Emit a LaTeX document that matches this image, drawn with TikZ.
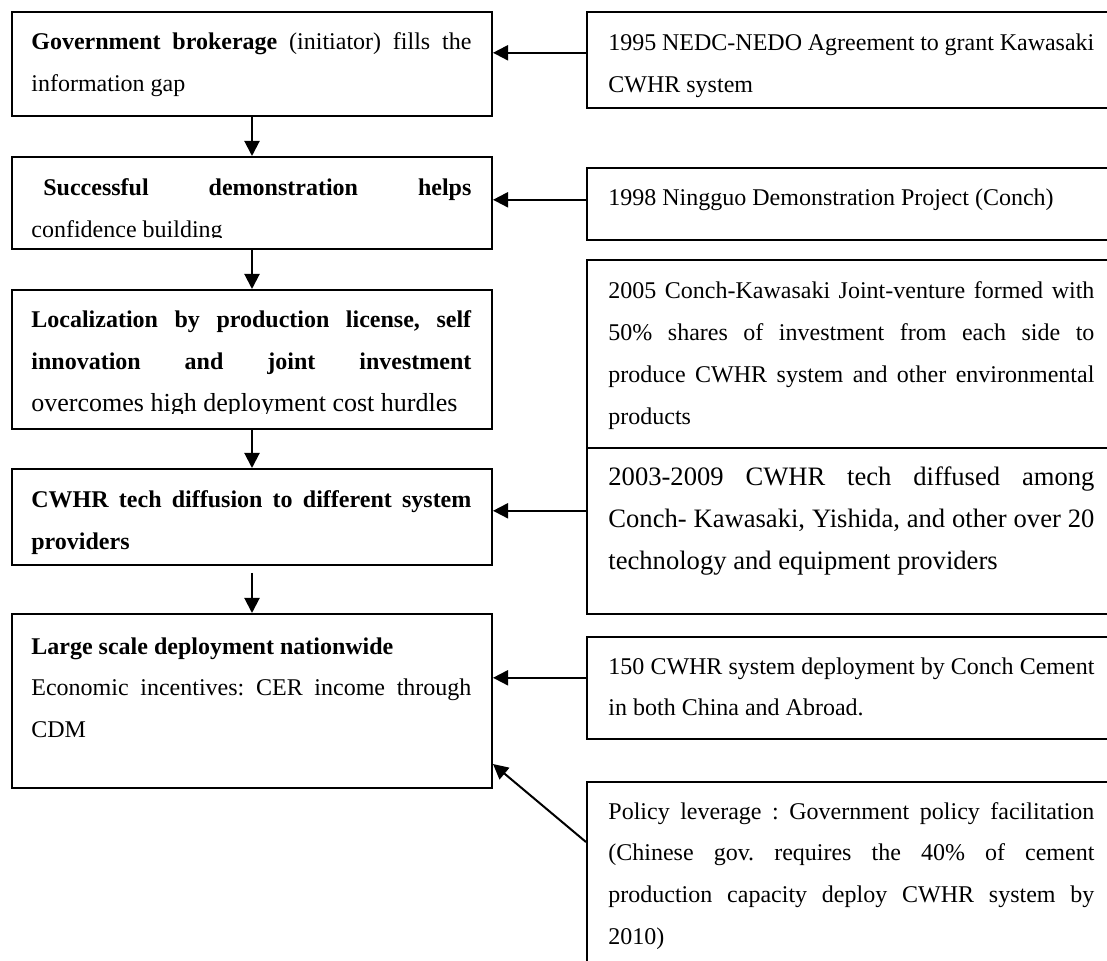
\documentclass[tikz,border=0pt]{standalone}
\usepackage{fontspec}
\setmainfont{Liberation Serif}
\usetikzlibrary{arrows.meta}
\frenchspacing
\hyphenpenalty=10000
\tikzstyle{lbox}=[draw,line width=1pt,minimum width=240pt,anchor=north west,inner sep=0pt]
\tikzstyle{rbox}=[draw,line width=0.8pt,minimum width=267pt,anchor=north west,inner sep=0pt]
\tikzstyle{ltext}=[anchor=base west,text width=220pt,align=justify,inner sep=0pt,font=\fontsize{12}{20.9}\selectfont]
\tikzstyle{rtext}=[anchor=base west,text width=243pt,align=justify,inner sep=0pt,font=\fontsize{12}{20.9}\selectfont]
\tikzstyle{arr}=[-{Triangle[length=7.5pt,width=7.5pt]},line width=1pt]
\newcommand{\bigtxt}{\fontsize{13.3}{20.9}\selectfont}

\begin{document}
\begin{tikzpicture}[x=1pt,y=-1pt]
\clip (0,0) rectangle (553.5,480.5);
\node[lbox,minimum height=52pt] at (5.5, 5.5) (b1) {};
\node[lbox,minimum height=46pt] at (5.5, 78) (b2) {};
\node[lbox,minimum height=69.5pt] at (5.5, 144.5) (b3) {};
\node[lbox,minimum height=48pt] at (5.5, 234) (b4) {};
\node[lbox,minimum height=87pt] at (5.5, 306.5) (b5) {};
\node[rbox,minimum height=48pt] at (293, 5.5) (r1) {};
\node[rbox,minimum height=36pt] at (293, 83.5) (r2) {};
\node[rbox,minimum height=94pt] at (293, 129.5) (r3) {};
\node[rbox,minimum height=83pt] at (293, 223.5) (r4) {};
\node[rbox,minimum height=51pt] at (293, 318) (r5) {};
\node[rbox,minimum height=100pt] at (293, 390.5) (r6) {};

\node[ltext] at (15.5, 25) (t1) {\textbf{Government brokerage} (initiator) fills the\linebreak information gap};
\begin{scope}
\clip (5.5, 78) rectangle (245.5, 119);
\node[ltext] at (15.5, 98) (t2) {\hspace*{6pt}\textbf{Successful demonstration helps}\linebreak confidence building};
\end{scope}
\begin{scope}
\clip (5.5, 144.5) rectangle (245.5, 207);
\node[ltext] at (15.5, 164) (t3) {\textbf{Localization by production license, self}\linebreak \textbf{innovation and joint investment}\linebreak {\fontsize{13}{20.9}\selectfont overcomes high deployment cost hurdles}};
\end{scope}
\node[ltext] at (15.5, 254) (t4) {\textbf{CWHR tech diffusion to different system}\linebreak \textbf{providers}};
\node[ltext] at (15.5, 327) (t5) {\textbf{Large scale deployment nationwide}\newline Economic incentives: CER income through\linebreak CDM};

\node[rtext] at (304, 25.5) (u1) {1995 NEDC-NEDO Agreement to grant Kawasaki\linebreak CWHR system};
\node[rtext] at (304, 103) (u2) {1998 Ningguo Demonstration Project (Conch)};
\node[rtext] at (304, 149.5) (u3) {2005 Conch-Kawasaki Joint-venture formed with\linebreak 50\% shares of investment from each side to\linebreak produce CWHR system and other environmental\linebreak products};
\node[rtext,font=\bigtxt] at (304, 243) (u4) {2003-2009 CWHR tech diffused among\linebreak Conch- Kawasaki, Yishida, and other over 20\linebreak technology and equipment providers};
\node[rtext] at (304, 337) (u5) {150 CWHR system deployment by Conch Cement\linebreak in both China and Abroad.};
\node[rtext] at (304, 409.5) (u6) {Policy leverage : Government policy facilitation\linebreak (Chinese gov. requires the 40\% of cement\linebreak production capacity deploy CWHR system by\linebreak 2010)};

\draw[arr] (b1.south) -- (b2.north);
\draw[arr] (b2.south) -- (b3.north);
\draw[arr] (b3.south) -- (b4.north);
\coordinate (s4) at ([yshift=-3.5pt]b4.south);
\draw[arr] (s4) -- (b5.north);

\draw[arr] ([yshift=3.5pt]r1.west) -- ([yshift=3.5pt]r1.west -| b1.east);
\draw[arr] ([yshift=2pt]r2.west) -- ([yshift=2pt]r2.west -| b2.east);
\draw[arr] ([yshift=10pt]r4.west) -- ([yshift=10pt]r4.west -| b4.east);
\draw[arr] ([yshift=5pt]r5.west) -- ([yshift=5pt]r5.west -| b5.east);
\coordinate (d6) at ([yshift=-30.5pt]r6.north west);
\draw[arr] (d6) -- ([yshift=12.5pt]b5.south east);
\end{tikzpicture}
\end{document}
